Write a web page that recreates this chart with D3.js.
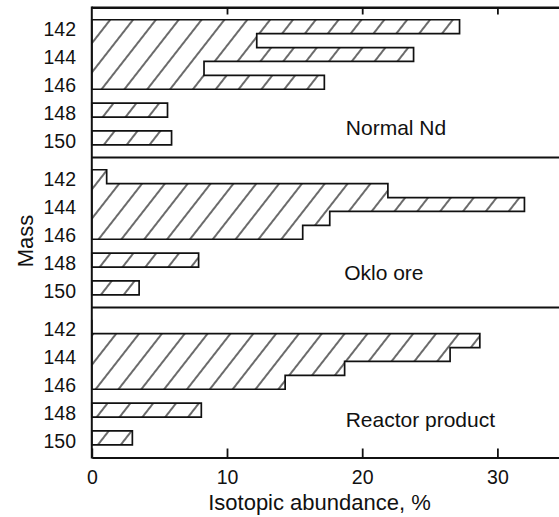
<!DOCTYPE html>
<html>
<head>
<meta charset="utf-8">
<script src="https://cdn.jsdelivr.net/npm/d3@7/dist/d3.min.js"></script>
<style>
  html, body { margin: 0; padding: 0; background: #fff; }
  svg { display: block; }
  text { font-family: "Liberation Sans", Arial, Helvetica, sans-serif; fill: #111; }
</style>
</head>
<body>
<svg id="chart" width="559" height="517"></svg>
<script>
// Neodymium isotopic composition (%) by mass number
const masses = [142, 143, 144, 145, 146, 148, 150];
const normalNd = [27.2, 12.2, 23.8, 8.3, 17.2, 5.6, 5.9];
const okloOre = [1.1, 21.9, 32.0, 17.6, 15.6, 7.9, 3.5];
const reactorProduct = [0, 28.7, 26.5, 18.7, 14.3, 8.1, 3.0];
const panelNames = ["Normal Nd", "Oklo ore", "Reactor product"];
const massTicks = [142, 144, 146, 148, 150];
const abundanceTicks = [0, 10, 20, 30];

const series = [normalNd, okloOre, reactorProduct];

(function draw() {
  // Layout
  const plotLeft = 91.8, plotTop = 7.5, panelH = 150, frameRight = 565;
  const plotBottom = plotTop + panelH * series.length;
  // where each panel's name sits (abundance units, mass units)
  const nameSpots = [
    { x: 22.5, m: 149.8 },
    { x: 21.6, m: 149.45 },
    { x: 24.3, m: 149.2 }
  ];

  const svg = d3.select("#chart");
  const ink = "#111";

  const x = d3.scaleLinear().domain([0, 35]).range([plotLeft, frameRight]);

  // Diagonal hatching used for every bar
  const defs = svg.append("defs");
  const sp = 18;
  defs.append("pattern")
    .attr("id", "hatch")
    .attr("patternUnits", "userSpaceOnUse")
    .attr("width", sp).attr("height", sp)
    .attr("patternTransform", "rotate(38)")
    .append("line")
    .attr("x1", sp / 2).attr("y1", -1)
    .attr("x2", sp / 2).attr("y2", sp + 1)
    .attr("stroke", ink).attr("stroke-width", 1.25);

  // Split masses into runs of consecutive numbers (drawn as one stepped block)
  const groups = [];
  masses.forEach((m, i) => {
    const g = groups[groups.length - 1];
    if (g && m === masses[g[g.length - 1]] + 1) g.push(i);
    else groups.push([i]);
  });

  series.forEach((vals, p) => {
    const y0 = plotTop + p * panelH;
    const y = d3.scaleLinear().domain([140.62, 151.41]).range([y0, y0 + panelH]);
    const rowH = y(143) - y(142);
    const g = svg.append("g");

    groups.forEach(idx => {
      const path = d3.path();
      path.moveTo(x(0), y(masses[idx[0]]) - rowH / 2);
      idx.forEach(i => {
        path.lineTo(x(vals[i]), y(masses[i]) - rowH / 2);
        path.lineTo(x(vals[i]), y(masses[i]) + rowH / 2);
      });
      path.lineTo(x(0), y(masses[idx[idx.length - 1]]) + rowH / 2);
      path.closePath();
      g.append("path")
        .attr("d", path.toString())
        .attr("fill", "url(#hatch)")
        .attr("stroke", ink)
        .attr("stroke-width", 1.7)
        .attr("stroke-linejoin", "miter");
    });

    // Mass tick labels
    const ax = svg.append("g")
      .attr("transform", `translate(${plotLeft},0)`)
      .call(d3.axisLeft(y).tickValues(massTicks).tickSize(0).tickPadding(15.8).tickFormat(d3.format("d")));
    ax.select(".domain").remove();
    ax.selectAll("text")
      .attr("dy", "0.47em")
      .style("font-size", "19.5px")
      .style("font-family", "\"Liberation Sans\", Arial, sans-serif")
      .attr("fill", ink);

    // Panel name
    svg.append("text")
      .attr("x", x(nameSpots[p].x))
      .attr("y", y(nameSpots[p].m))
      .attr("text-anchor", "middle")
      .style("font-size", "21px")
      .text(panelNames[p]);

    // Panel separator / frame line
    svg.append("line")
      .attr("x1", plotLeft).attr("x2", frameRight)
      .attr("y1", y0).attr("y2", y0)
      .attr("stroke", ink).attr("stroke-width", 2);
  });

  // Left frame
  svg.append("line")
    .attr("x1", plotLeft).attr("x2", plotLeft)
    .attr("y1", plotTop - 1).attr("y2", plotBottom + 1)
    .attr("stroke", ink).attr("stroke-width", 2);

  // Bottom axis with inward ticks
  const bx = svg.append("g")
    .attr("transform", `translate(0,${plotBottom})`)
    .call(d3.axisBottom(x).tickValues(abundanceTicks).tickSizeInner(-9).tickSizeOuter(0).tickPadding(12.5));
  bx.select(".domain").attr("stroke", ink).attr("stroke-width", 2);
  bx.selectAll(".tick line").attr("stroke", ink).attr("stroke-width", 1.8);
  bx.selectAll("text")
    .style("font-size", "19.5px")
    .style("font-family", "\"Liberation Sans\", Arial, sans-serif")
    .attr("fill", ink);

  // Top axis: ticks only
  const tx = svg.append("g")
    .attr("transform", `translate(0,${plotTop})`)
    .call(d3.axisTop(x).tickValues(abundanceTicks.filter(d => d > 0)).tickSizeInner(-7).tickSizeOuter(0).tickFormat(""));
  tx.select(".domain").attr("stroke", ink).attr("stroke-width", 2);
  tx.selectAll(".tick line").attr("stroke", ink).attr("stroke-width", 1.8);

  // Axis titles
  svg.append("text")
    .attr("x", 319.5).attr("y", 510)
    .attr("text-anchor", "middle")
    .style("font-size", "22px")
    .text("Isotopic abundance, %");

  svg.append("text")
    .attr("transform", "translate(33,241) rotate(-90)")
    .attr("text-anchor", "middle")
    .style("font-size", "22px")
    .text("Mass");
})();
</script>
</body>
</html>
